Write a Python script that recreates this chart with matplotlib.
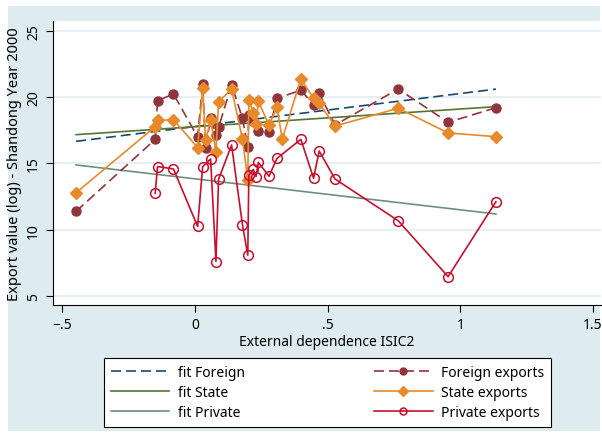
import numpy as np
import matplotlib.pyplot as plt
from matplotlib.patches import Rectangle

plt.rcParams['font.family'] = ['Noto Sans', 'DejaVu Sans']

# external dependence (ISIC2) per industry
ext_dep = [-0.448, -0.150, -0.141, -0.081, 0.010, 0.029, 0.040, 0.059, 0.079,
           0.089, 0.138, 0.179, 0.199, 0.203, 0.220, 0.230, 0.239, 0.279,
           0.309, 0.329, 0.399, 0.447, 0.468, 0.528, 0.766, 0.954, 1.134]

nan = np.nan
foreign_exp = [11.40, 16.81, 19.73, 20.23, 17.00, 20.99, 16.19, 18.40, 17.12,
               17.73, 20.93, 18.40, 16.27, 18.65, 18.20, nan, 17.41, 17.39,
               19.91, nan, 20.51, 19.43, 20.29, 17.90, 20.61, 18.10, 19.20]
state_exp = [12.80, 17.77, 18.24, 18.30, 16.20, 20.66, 16.75, 18.24, 15.89,
             19.64, 20.61, 16.84, 13.78, 19.78, 18.83, 17.97, 19.67, 17.91,
             19.23, 16.84, 21.36, 19.92, 19.53, 17.82, 19.16, 17.30, 17.02]
private_exp = [nan, 12.76, 14.77, 14.59, 10.26, 14.76, nan, 15.34, 7.62,
               13.82, 16.39, 10.38, 8.10, 14.11, 14.55, 14.02, 15.08, 14.04,
               15.38, nan, 16.82, 13.89, 15.94, 13.83, 10.69, 6.48, 12.12]

# fitted lines, values at the ends of the x range
fit_x = [-0.448, 1.134]
fit_foreign = [16.67, 20.60]
fit_state = [17.17, 19.28]
fit_private = [14.89, 11.20]

xticks = [-0.5, 0, 0.5, 1, 1.5]
xticklabels = ['\u2212.5', '0', '.5', '1', '1.5']
yticks = [5, 10, 15, 20, 25]

navy = '#1a476f'
maroon = '#90353b'
green = '#55752f'
orange = '#e8892b'
teal = '#6e8e84'
cranberry = '#c8102e'

fig = plt.figure(figsize=(6.02, 4.39), dpi=100, facecolor='white')
fig.patches.append(Rectangle((8 / 602, 1 - 432 / 439), 592 / 602, 425 / 439,
                             transform=fig.transFigure, facecolor='#dfecef',
                             edgecolor='none', zorder=-10))
ax = fig.add_axes([53 / 602, 1 - 305.7 / 439, 547.7 / 602, 284 / 439])
ax.set_facecolor('white')

x = np.array(ext_dep)


def clean(vals):
    v = np.array(vals, dtype=float)
    m = ~np.isnan(v)
    return x[m], v[m]


ax.plot(fit_x, fit_foreign, color=navy, lw=1.2, ls=(0, (6, 3)), label='fit Foreign')
ax.plot(fit_x, fit_state, color=green, lw=1.2, label='fit State')
ax.plot(fit_x, fit_private, color=teal, lw=1.2, label='fit Private')

fx, fy = clean(foreign_exp)
ax.plot(fx, fy, color=maroon, lw=1.2, ls=(0, (6, 3)), marker='o', ms=6.5,
        mec=maroon, mfc=maroon, label='Foreign exports')
sx, sy = clean(state_exp)
ax.plot(sx, sy, color=orange, lw=1.2, marker='D', ms=6.5,
        mec=orange, mfc=orange, label='State exports')
px, py = clean(private_exp)
ax.plot(px, py, color=cranberry, lw=1.2, marker='o', ms=7, mec=cranberry,
        mfc='none', mew=1.1, label='Private exports')

ax.set_xlim(-0.535, 1.529)
ax.set_ylim(4.37, 25.75)
ax.set_xticks(xticks)
ax.set_xticklabels(xticklabels)
ax.set_yticks(yticks)
ax.set_yticklabels([str(t) for t in yticks], rotation=90, va='center')
ax.tick_params(labelsize=10, length=5, width=0.8, colors='black')
for t in yticks:
    ax.axhline(t, color='#e6f0f3', lw=1.5, zorder=0)
for s in ['top', 'right']:
    ax.spines[s].set_visible(False)
for s in ['left', 'bottom']:
    ax.spines[s].set_linewidth(0.8)

ax.set_xlabel('External dependence ISIC2', fontsize=10, labelpad=2)
ax.set_ylabel('Export value (log) - Shandong Year 2000', fontsize=10.5, labelpad=3)

handles, labels = ax.get_legend_handles_labels()
leg = fig.legend(handles, labels, ncol=2, loc='lower left',
                 bbox_to_anchor=(104 / 602, 1 - 428 / 439, 447 / 602, 76 / 439),
                 mode='expand', fontsize=10, handlelength=4.2, handletextpad=0.6,
                 borderaxespad=0, frameon=True, fancybox=False, labelspacing=0.35,
                 borderpad=0.5, framealpha=1)
leg.get_frame().set_edgecolor('black')
leg.get_frame().set_facecolor('white')
leg.get_frame().set_linewidth(0.8)
for h in leg.legend_handles:
    if h.get_marker() not in (None, 'None', ''):
        h.set_markersize(5)

fig.savefig('out.png', dpi=100, facecolor='white')
